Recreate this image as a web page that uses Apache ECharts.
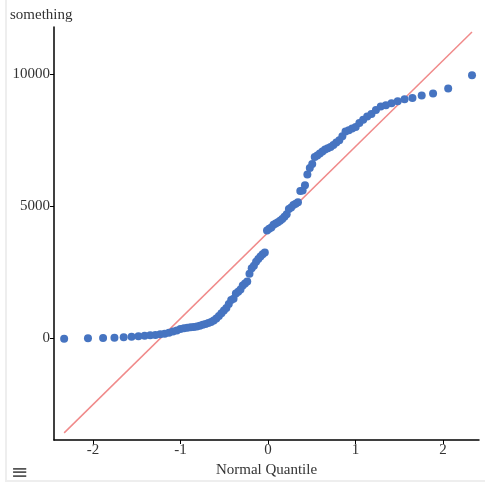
<!DOCTYPE html>
<html>
<head>
<meta charset="utf-8">
<script src="https://cdn.jsdelivr.net/npm/echarts@6/dist/echarts.min.js"></script>
<style>
html,body{margin:0;padding:0;background:#fff;overflow:hidden;}
#frame{position:absolute;left:5px;top:0;width:480px;height:480px;border-left:2px solid #eee;border-bottom:2px solid #eee;}
#chart{position:absolute;left:0;top:0;width:485px;height:484px;}
</style>
</head>
<body>
<div id="frame"></div>
<div id="chart"></div>
<script>
// Sorted sample values
var sampleValues = [
  -20, 0, 10, 20, 40, 60, 80, 100, 120, 130,
  150, 170, 210, 260, 300, 350, 380, 400, 420, 430,
  450, 480, 510, 540, 580, 620, 680, 750, 850, 950,
  1050, 1150, 1300, 1450, 1500, 1700, 1760, 1850, 2000, 2080,
  2150, 2450, 2650, 2750, 2900, 3000, 3100, 3180, 3250, 4080,
  4150, 4200, 4300, 4350, 4400, 4450, 4520, 4600, 4700, 4900,
  4950, 5050, 5100, 5150, 5580, 5600, 5800, 6200, 6450, 6600,
  6870, 6920, 7000, 7080, 7150, 7200, 7250, 7320, 7420, 7500,
  7650, 7830, 7880, 7950, 8000, 8150, 8280, 8400, 8500, 8650,
  8780, 8830, 8900, 8980, 9050, 9100, 9200, 9270, 9460, 9960
];
var xTicks = [-2, -1, 0, 1, 2];
var yTicks = [0, 5000, 10000];
var yAxisTitle = 'something';
var xAxisTitle = 'Normal Quantile';

// inverse standard normal CDF (Acklam)
function invNorm(p){
  var a=[-3.969683028665376e+01,2.209460984245205e+02,-2.759285104469687e+02,1.383577518672690e+02,-3.066479806614716e+01,2.506628277459239e+00];
  var b=[-5.447609879822406e+01,1.615858368580409e+02,-1.556989798598866e+02,6.680131188771972e+01,-1.328068155288572e+01];
  var c=[-7.784894002430293e-03,-3.223964580411365e-01,-2.400758277161838e+00,-2.549732539343734e+00,4.374664141464968e+00,2.938163982698783e+00];
  var d=[7.784695709041462e-03,3.224671290700398e-01,2.445134137142996e+00,3.754408661907416e+00];
  var pl=0.02425, q, r;
  if(p<pl){q=Math.sqrt(-2*Math.log(p));return (((((c[0]*q+c[1])*q+c[2])*q+c[3])*q+c[4])*q+c[5])/((((d[0]*q+d[1])*q+d[2])*q+d[3])*q+1);}
  if(p>1-pl){q=Math.sqrt(-2*Math.log(1-p));return -(((((c[0]*q+c[1])*q+c[2])*q+c[3])*q+c[4])*q+c[5])/((((d[0]*q+d[1])*q+d[2])*q+d[3])*q+1);}
  q=p-0.5;r=q*q;
  return (((((a[0]*r+a[1])*r+a[2])*r+a[3])*r+a[4])*r+a[5])*q/(((((b[0]*r+b[1])*r+b[2])*r+b[3])*r+b[4])*r+1);
}

var n = sampleValues.length;
var points = sampleValues.map(function(v,i){ return [invNorm((i+1)/(n+1)), v]; });
var mean = sampleValues.reduce(function(s,v){return s+v;},0)/n;
var sd = Math.sqrt(sampleValues.reduce(function(s,v){return s+(v-mean)*(v-mean);},0)/(n-1));
var zMin = points[0][0], zMax = points[n-1][0];
var refLine = [[zMin, mean+sd*zMin],[zMax, mean+sd*zMax]];

var serif = '"Liberation Serif", "DejaVu Serif", serif';
var chart = echarts.init(document.getElementById('chart'), null, {renderer:'canvas'});
chart.setOption({
  animation:false,
  grid:{left:54, right:6, top:27, bottom:44, containLabel:false},
  xAxis:{
    type:'value', min:-2.446, max:2.41,
    name:xAxisTitle, nameLocation:'middle', nameGap:21,
    nameTextStyle:{fontFamily:serif, fontSize:15, color:'#333'},
    axisLine:{show:true, onZero:false, lineStyle:{color:'#000', width:1.5}},
    axisTick:{show:true, length:4, customValues:xTicks, lineStyle:{color:'#000'}},
    axisLabel:{customValues:xTicks, fontFamily:serif, fontSize:15, color:'#333', margin:3,
      formatter:function(v){return String(v);}},
    splitLine:{show:false}
  },
  yAxis:{
    type:'value', min:-3850, max:11790,
    axisLine:{show:true, onZero:false, lineStyle:{color:'#000', width:1.5}},
    axisTick:{show:true, length:4, customValues:yTicks, lineStyle:{color:'#000'}},
    axisLabel:{customValues:yTicks, fontFamily:serif, fontSize:15, color:'#333', margin:4,
      formatter:function(v){return String(v);}},
    splitLine:{show:false}
  },
  graphic:[
    {type:'text', left:10, top:8, style:{text:yAxisTitle, font:'15px ' + serif, fill:'#333'}},
    {type:'text', left:11, top:463, style:{text:'\u2261', font:'21px "DejaVu Sans", sans-serif', fill:'#555'}}
  ],
  series:[
    {type:'line', data:refLine, symbol:'none', lineStyle:{color:'#f08a8a', width:1.5}, z:1},
    {type:'scatter', data:points, symbolSize:8, itemStyle:{color:'#4674c1', opacity:1}, z:2}
  ]
});
</script>
</body>
</html>
